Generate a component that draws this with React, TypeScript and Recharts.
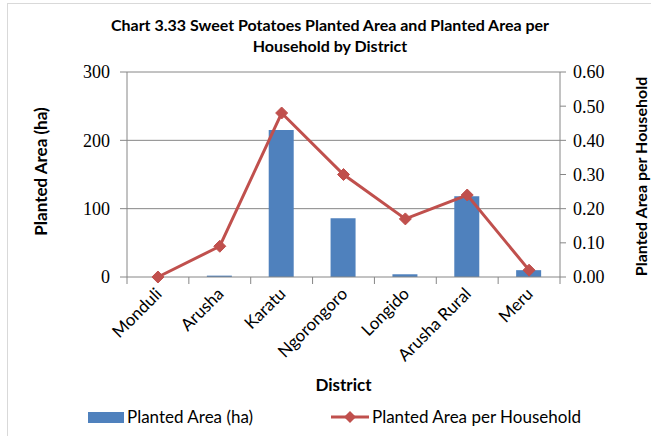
import React from 'react';
import {
  ComposedChart, Bar, Line, XAxis, YAxis, CartesianGrid, Legend,
} from 'recharts';

const districts = ['Monduli', 'Arusha', 'Karatu', 'Ngorongoro', 'Longido', 'Arusha Rural', 'Meru'];
const plantedArea = [0, 2, 215, 86, 4, 118, 10];
const areaPerHousehold = [0, 0.09, 0.48, 0.3, 0.17, 0.24, 0.02];
const leftTicks = [0, 100, 200, 300];
const rightTicks = [0, 0.1, 0.2, 0.3, 0.4, 0.5, 0.6];

const data = districts.map((d, i) => ({
  district: d,
  area: plantedArea[i],
  perHh: areaPerHousehold[i],
}));

const FONT = 'Lato, "Open Sans", sans-serif';
const SERIF = '"Liberation Serif", "DejaVu Serif", serif';
const BAR = '#4F81BD';
const LINE = '#C0504D';
const AXIS = '#868686';

const Diamond = (props: any) => {
  const { cx, cy } = props;
  if (cx == null || cy == null) return null;
  const r = 6;
  return (
    <polygon
      points={`${cx},${cy - r} ${cx + r},${cy} ${cx},${cy + r} ${cx - r},${cy}`}
      fill={LINE}
      stroke={LINE}
    />
  );
};

// category labels at -45deg, tick marks on the category boundaries (Excel style)
const XTick = (props: any) => {
  const { x, y, payload, index } = props;
  const half = 433 / 7 / 2;
  return (
    <g>
      <line x1={x - half} y1={y - 8} x2={x - half} y2={y - 1} stroke={AXIS} />
      {index === districts.length - 1 && (
        <line x1={x + half} y1={y - 8} x2={x + half} y2={y - 1} stroke={AXIS} />
      )}
      <text
        x={x + 5}
        y={y + 10}
        transform={`rotate(-45, ${x + 5}, ${y + 10})`}
        textAnchor="end"
        fontSize={17}
        fill="#000"
        fontFamily={FONT}
      >
        {payload.value}
      </text>
    </g>
  );
};

const renderLegend = () => (
  <div style={{ position: 'relative', width: 651, height: 24, fontFamily: FONT, fontSize: 17, color: '#000' }}>
    <div style={{ position: 'absolute', left: 88, top: 6, width: 36, height: 11, background: BAR }} />
    <span style={{ position: 'absolute', left: 127, top: 0 }}>Planted Area (ha)</span>
    <svg style={{ position: 'absolute', left: 331, top: 3 }} width={40} height={16}>
      <line x1={0} y1={8} x2={38} y2={8} stroke={LINE} strokeWidth={3} />
      <polygon points="19,2 25,8 19,14 13,8" fill={LINE} />
    </svg>
    <span style={{ position: 'absolute', left: 372, top: 0 }}>Planted Area per Household</span>
  </div>
);

export default function App() {
  return (
    <div style={{ position: 'absolute', left: 0, top: 0, width: 651, height: 436, background: '#fff', fontFamily: FONT }}>
      <div style={{ position: 'absolute', left: 7, top: 3, width: 660, height: 450, border: '1px solid #d9d9d9' }} />
      <div
        style={{
          position: 'absolute', left: 0, top: 14, width: 660, textAlign: 'center',
          fontSize: 16, fontWeight: 700, lineHeight: '21px', color: '#000',
        }}
      >
        Chart 3.33 Sweet Potatoes Planted Area and Planted Area per
        <br />
        Household by District
      </div>
      <ComposedChart
        width={651}
        height={436}
        data={data}
        margin={{ top: 72, right: 0, bottom: 0, left: 0 }}
      >
        <CartesianGrid vertical={false} horizontal stroke={AXIS} horizontalValues={[100, 200, 300]} yAxisId="left" />
        <XAxis
          dataKey="district"
          height={159}
          interval={0}
          axisLine={{ stroke: AXIS }}
          tickLine={false}
          tick={<XTick />}
          label={{ value: 'District', position: 'insideTop', dy: 97, fontSize: 17, fontWeight: 700, fill: '#000', fontFamily: FONT }}
        />
        <YAxis
          yAxisId="left"
          width={127}
          domain={[0, 300]}
          ticks={leftTicks}
          axisLine={{ stroke: AXIS }}
          tickLine={{ stroke: AXIS }}
          tickSize={7}
          tickMargin={10}
          tick={{ fontSize: 18, fill: '#000', fontFamily: SERIF }}
          label={{ value: 'Planted Area (ha)', angle: -90, position: 'insideLeft', dx: 36, dy: -3, fontSize: 17, fontWeight: 700, fill: '#000', fontFamily: FONT, style: { textAnchor: 'middle' } }}
        />
        <YAxis
          yAxisId="right"
          orientation="right"
          width={91}
          domain={[0, 0.6]}
          ticks={rightTicks}
          tickFormatter={(v: number) => v.toFixed(2)}
          axisLine={{ stroke: AXIS }}
          tickLine={{ stroke: AXIS }}
          tickSize={6}
          tickMargin={7}
          tick={{ fontSize: 18, fill: '#000', fontFamily: SERIF, textAnchor: 'start' }}
          label={{ value: 'Planted Area per Household', angle: -90, position: 'insideRight', dx: -5, dy: 2, fontSize: 16, fontWeight: 700, fill: '#000', fontFamily: FONT, style: { textAnchor: 'middle' } }}
        />
        <Bar yAxisId="left" dataKey="area" name="Planted Area (ha)" fill={BAR} barSize={25} isAnimationActive={false} />
        <Line
          yAxisId="right"
          type="linear"
          dataKey="perHh"
          name="Planted Area per Household"
          stroke={LINE}
          strokeWidth={3}
          dot={<Diamond />}
          activeDot={false}
          isAnimationActive={false}
        />
        <Legend
          content={renderLegend}
          verticalAlign="middle"
          wrapperStyle={{ position: 'absolute', top: 406, left: 0, width: 651 }}
        />
      </ComposedChart>
    </div>
  );
}
